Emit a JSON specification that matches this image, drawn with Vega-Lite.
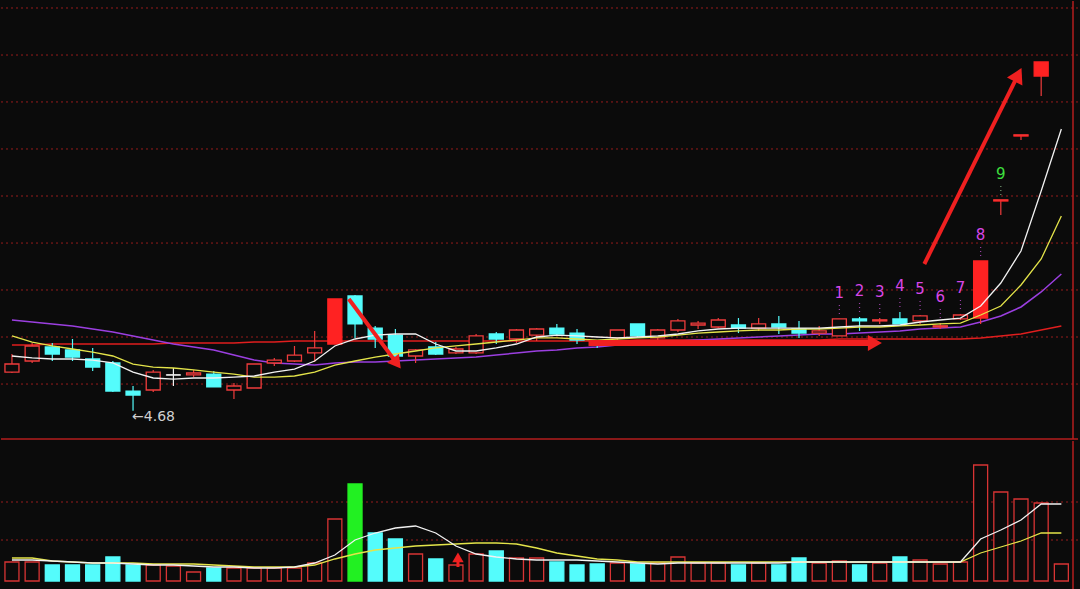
{
  "$schema": "https://vega.github.io/schema/vega-lite/v6.json",
  "background": "#0b0b0b",
  "padding": {"left": 0, "top": 0, "right": 3, "bottom": 0},
  "spacing": 0,
  "config": {"view": {"stroke": null}, "concat": {"spacing": 0}},
  "datasets": {
    "k": [
      {"i":0,"o":5.052,"c":5.129,"h":5.225,"l":5.043,"lu":false,"m5":5.206,"m10":5.398,"m20":5.551,"m60":5.311,"v":0.95,"v5":1.05,"v10":1.15,"lab":null},
      {"i":1,"o":5.158,"c":5.302,"h":5.331,"l":5.139,"lu":false,"m5":5.187,"m10":5.340,"m20":5.532,"m60":5.311,"v":0.95,"v5":1.05,"v10":1.15,"lab":null},
      {"i":2,"o":5.292,"c":5.225,"h":5.331,"l":5.158,"lu":false,"m5":5.177,"m10":5.302,"m20":5.513,"m60":5.321,"v":0.80,"v5":1.0,"v10":1.0,"lab":null},
      {"i":3,"o":5.264,"c":5.196,"h":5.369,"l":5.158,"lu":false,"m5":5.177,"m10":5.273,"m20":5.494,"m60":5.321,"v":0.80,"v5":0.95,"v10":0.95,"lab":null},
      {"i":4,"o":5.177,"c":5.100,"h":5.283,"l":5.062,"lu":false,"m5":5.167,"m10":5.244,"m20":5.465,"m60":5.321,"v":0.80,"v5":0.9,"v10":0.9,"lab":null},
      {"i":5,"o":5.139,"c":4.870,"h":5.158,"l":4.861,"lu":false,"m5":5.139,"m10":5.206,"m20":5.436,"m60":5.321,"v":1.20,"v5":0.9,"v10":0.9,"lab":null},
      {"i":6,"o":4.870,"c":4.832,"h":4.918,"l":4.68,"lu":false,"m5":5.052,"m10":5.129,"m20":5.398,"m60":5.321,"v":0.80,"v5":0.85,"v10":0.9,"lab":null},
      {"i":7,"o":4.880,"c":5.052,"h":5.072,"l":4.861,"lu":false,"m5":4.995,"m10":5.100,"m20":5.359,"m60":5.321,"v":0.80,"v5":0.8,"v10":0.85,"lab":null},
      {"i":8,"o":5.024,"c":5.024,"h":5.091,"l":4.918,"lu":false,"m5":4.985,"m10":5.091,"m20":5.321,"m60":5.331,"v":0.75,"v5":0.8,"v10":0.85,"lab":null},
      {"i":9,"o":5.024,"c":5.043,"h":5.072,"l":5.004,"lu":false,"m5":4.995,"m10":5.072,"m20":5.292,"m60":5.331,"v":0.45,"v5":0.75,"v10":0.85,"lab":null},
      {"i":10,"o":5.033,"c":4.909,"h":5.062,"l":4.909,"lu":false,"m5":4.995,"m10":5.052,"m20":5.264,"m60":5.331,"v":0.65,"v5":0.7,"v10":0.8,"lab":null},
      {"i":11,"o":4.880,"c":4.918,"h":4.947,"l":4.794,"lu":false,"m5":5.004,"m10":5.033,"m20":5.215,"m60":5.331,"v":0.65,"v5":0.7,"v10":0.75,"lab":null},
      {"i":12,"o":4.899,"c":5.129,"h":5.129,"l":4.899,"lu":false,"m5":5.014,"m10":5.004,"m20":5.167,"m60":5.340,"v":0.65,"v5":0.65,"v10":0.7,"lab":null},
      {"i":13,"o":5.139,"c":5.167,"h":5.187,"l":5.110,"lu":false,"m5":5.052,"m10":5.004,"m20":5.139,"m60":5.340,"v":0.65,"v5":0.65,"v10":0.7,"lab":null},
      {"i":14,"o":5.158,"c":5.215,"h":5.302,"l":5.148,"lu":false,"m5":5.081,"m10":5.014,"m20":5.129,"m60":5.350,"v":0.65,"v5":0.7,"v10":0.7,"lab":null},
      {"i":15,"o":5.235,"c":5.283,"h":5.446,"l":5.148,"lu":false,"m5":5.158,"m10":5.052,"m20":5.119,"m60":5.350,"v":0.90,"v5":0.9,"v10":0.8,"lab":null},
      {"i":16,"o":5.321,"c":5.753,"h":5.753,"l":5.321,"lu":true,"m5":5.302,"m10":5.119,"m20":5.139,"m60":5.350,"v":3.10,"v5":1.3,"v10":1.1,"lab":null},
      {"i":17,"o":5.781,"c":5.513,"h":5.791,"l":5.379,"lu":false,"m5":5.369,"m10":5.158,"m20":5.148,"m60":5.350,"v":4.85,"v5":2.05,"v10":1.35,"lab":null},
      {"i":18,"o":5.474,"c":5.369,"h":5.494,"l":5.283,"lu":false,"m5":5.407,"m10":5.196,"m20":5.148,"m60":5.350,"v":2.40,"v5":2.4,"v10":1.55,"lab":null},
      {"i":19,"o":5.407,"c":5.206,"h":5.465,"l":5.187,"lu":false,"m5":5.417,"m10":5.225,"m20":5.158,"m60":5.350,"v":2.10,"v5":2.65,"v10":1.65,"lab":null},
      {"i":20,"o":5.206,"c":5.264,"h":5.273,"l":5.139,"lu":false,"m5":5.417,"m10":5.254,"m20":5.167,"m60":5.350,"v":1.35,"v5":2.75,"v10":1.75,"lab":null},
      {"i":21,"o":5.292,"c":5.225,"h":5.340,"l":5.215,"lu":false,"m5":5.321,"m10":5.283,"m20":5.177,"m60":5.350,"v":1.10,"v5":2.4,"v10":1.8,"lab":null},
      {"i":22,"o":5.235,"c":5.273,"h":5.292,"l":5.225,"lu":false,"m5":5.254,"m10":5.302,"m20":5.187,"m60":5.350,"v":0.80,"v5":1.75,"v10":1.85,"lab":null},
      {"i":23,"o":5.235,"c":5.398,"h":5.417,"l":5.225,"lu":false,"m5":5.254,"m10":5.321,"m20":5.196,"m60":5.350,"v":1.35,"v5":1.35,"v10":1.9,"lab":null},
      {"i":24,"o":5.417,"c":5.369,"h":5.436,"l":5.321,"lu":false,"m5":5.283,"m10":5.340,"m20":5.215,"m60":5.350,"v":1.50,"v5":1.2,"v10":1.9,"lab":null},
      {"i":25,"o":5.369,"c":5.455,"h":5.465,"l":5.331,"lu":false,"m5":5.321,"m10":5.359,"m20":5.235,"m60":5.350,"v":1.15,"v5":1.1,"v10":1.85,"lab":null},
      {"i":26,"o":5.407,"c":5.465,"h":5.474,"l":5.350,"lu":false,"m5":5.388,"m10":5.379,"m20":5.254,"m60":5.350,"v":1.15,"v5":1.05,"v10":1.65,"lab":null},
      {"i":27,"o":5.474,"c":5.417,"h":5.513,"l":5.398,"lu":false,"m5":5.407,"m10":5.379,"m20":5.264,"m60":5.350,"v":0.95,"v5":1.05,"v10":1.4,"lab":null},
      {"i":28,"o":5.426,"c":5.359,"h":5.465,"l":5.321,"lu":false,"m5":5.398,"m10":5.369,"m20":5.283,"m60":5.350,"v":0.80,"v5":1.05,"v10":1.25,"lab":null},
      {"i":29,"o":5.350,"c":5.321,"h":5.359,"l":5.283,"lu":false,"m5":5.388,"m10":5.359,"m20":5.292,"m60":5.350,"v":0.85,"v5":1.0,"v10":1.1,"lab":null},
      {"i":30,"o":5.379,"c":5.455,"h":5.455,"l":5.331,"lu":false,"m5":5.379,"m10":5.369,"m20":5.311,"m60":5.350,"v":0.90,"v5":0.95,"v10":1.05,"lab":null},
      {"i":31,"o":5.513,"c":5.398,"h":5.513,"l":5.388,"lu":false,"m5":5.388,"m10":5.379,"m20":5.321,"m60":5.359,"v":0.85,"v5":0.9,"v10":0.95,"lab":null},
      {"i":32,"o":5.379,"c":5.455,"h":5.465,"l":5.331,"lu":false,"m5":5.398,"m10":5.388,"m20":5.331,"m60":5.359,"v":0.90,"v5":0.85,"v10":0.95,"lab":null},
      {"i":33,"o":5.455,"c":5.542,"h":5.561,"l":5.436,"lu":false,"m5":5.417,"m10":5.407,"m20":5.350,"m60":5.359,"v":1.20,"v5":0.9,"v10":0.95,"lab":null},
      {"i":34,"o":5.503,"c":5.522,"h":5.542,"l":5.465,"lu":false,"m5":5.446,"m10":5.426,"m20":5.359,"m60":5.359,"v":0.90,"v5":0.9,"v10":0.95,"lab":null},
      {"i":35,"o":5.484,"c":5.551,"h":5.570,"l":5.474,"lu":false,"m5":5.465,"m10":5.436,"m20":5.369,"m60":5.359,"v":0.90,"v5":0.9,"v10":0.95,"lab":null},
      {"i":36,"o":5.503,"c":5.474,"h":5.570,"l":5.426,"lu":false,"m5":5.474,"m10":5.446,"m20":5.379,"m60":5.359,"v":0.80,"v5":0.9,"v10":0.95,"lab":null},
      {"i":37,"o":5.474,"c":5.513,"h":5.570,"l":5.446,"lu":false,"m5":5.474,"m10":5.455,"m20":5.388,"m60":5.359,"v":0.90,"v5":0.9,"v10":0.95,"lab":null},
      {"i":38,"o":5.513,"c":5.484,"h":5.590,"l":5.417,"lu":false,"m5":5.474,"m10":5.455,"m20":5.398,"m60":5.359,"v":0.80,"v5":0.9,"v10":0.95,"lab":null},
      {"i":39,"o":5.465,"c":5.426,"h":5.542,"l":5.379,"lu":false,"m5":5.474,"m10":5.465,"m20":5.407,"m60":5.359,"v":1.15,"v5":0.95,"v10":0.95,"lab":null},
      {"i":40,"o":5.426,"c":5.446,"h":5.494,"l":5.398,"lu":false,"m5":5.474,"m10":5.465,"m20":5.417,"m60":5.359,"v":0.90,"v5":0.95,"v10":0.95,"lab":null},
      {"i":41,"o":5.398,"c":5.561,"h":5.561,"l":5.398,"lu":false,"m5":5.484,"m10":5.474,"m20":5.417,"m60":5.369,"v":1.00,"v5":0.95,"v10":0.95,"lab":"1"},
      {"i":42,"o":5.561,"c":5.542,"h":5.580,"l":5.446,"lu":false,"m5":5.494,"m10":5.484,"m20":5.426,"m60":5.369,"v":0.80,"v5":0.95,"v10":0.95,"lab":"2"},
      {"i":43,"o":5.542,"c":5.551,"h":5.570,"l":5.513,"lu":false,"m5":5.494,"m10":5.484,"m20":5.436,"m60":5.369,"v":0.90,"v5":0.95,"v10":0.95,"lab":"3"},
      {"i":44,"o":5.561,"c":5.513,"h":5.628,"l":5.513,"lu":false,"m5":5.503,"m10":5.494,"m20":5.446,"m60":5.369,"v":1.20,"v5":0.95,"v10":0.95,"lab":"4"},
      {"i":45,"o":5.542,"c":5.590,"h":5.599,"l":5.513,"lu":false,"m5":5.532,"m10":5.503,"m20":5.465,"m60":5.369,"v":1.05,"v5":0.95,"v10":0.95,"lab":"5"},
      {"i":46,"o":5.484,"c":5.494,"h":5.522,"l":5.465,"lu":false,"m5":5.551,"m10":5.513,"m20":5.474,"m60":5.369,"v":0.85,"v5":0.95,"v10":0.95,"lab":"6"},
      {"i":47,"o":5.561,"c":5.599,"h":5.609,"l":5.551,"lu":false,"m5":5.570,"m10":5.522,"m20":5.484,"m60":5.369,"v":0.95,"v5":0.95,"v10":0.95,"lab":"7"},
      {"i":48,"o":5.570,"c":6.117,"h":6.117,"l":5.513,"lu":true,"m5":5.685,"m10":5.599,"m20":5.532,"m60":5.379,"v":5.80,"v5":2.1,"v10":1.4,"lab":"8"},
      {"i":49,"o":6.692,"c":6.702,"h":6.702,"l":6.558,"lu":true,"m5":5.906,"m10":5.685,"m20":5.590,"m60":5.398,"v":4.45,"v5":2.55,"v10":1.7,"lab":"9"},
      {"i":50,"o":7.315,"c":7.325,"h":7.325,"l":7.277,"lu":true,"m5":6.213,"m10":5.887,"m20":5.676,"m60":5.417,"v":4.10,"v5":3.05,"v10":2.0,"lab":null},
      {"i":51,"o":7.891,"c":8.025,"h":8.025,"l":7.699,"lu":true,"m5":6.788,"m10":6.136,"m20":5.820,"m60":5.455,"v":3.90,"v5":3.85,"v10":2.4,"lab":null},
      {"i":52,"o":null,"c":null,"h":null,"l":null,"lu":false,"m5":7.383,"m10":6.548,"m20":5.992,"m60":5.494,"v":0.85,"v5":3.85,"v10":2.4,"lab":null}
    ],
    "gridTop": [{"p":8.543},{"p":8.092},{"p":7.642},{"p":7.191},{"p":6.74},{"p":6.289},{"p":5.839},{"p":5.388},{"p":4.937}],
    "gridVol": [{"v":2.05},{"v":3.95}],
    "edgeTop": [{"i":52.577,"p":4.41}],
    "edgeVol": [{"i":52.577}],
    "arrows": [
      {"id":"a","i1":16.69,"p1":5.753,"i2":19.01,"p2":5.152},
      {"id":"b","i1":28.57,"p1":5.331,"i2":42.76,"p2":5.331},
      {"id":"c","i1":45.21,"p1":6.088,"i2":49.8,"p2":7.881}
    ],
    "varrow": [
      {"i":22.1,"v1":0.7,"v2":1.18}
    ]
  },
  "vconcat": [
    {
      "width": 1077,
      "height": 438,
      "data": {"name": "k"},
      "layer": [
        {
          "data": {"name": "gridTop"},
          "mark": {"type": "rule", "color": "#961c1c", "strokeDash": [2, 3], "strokeWidth": 1},
          "encoding": {
            "y": {"field": "p", "type": "quantitative", "scale": {"domain": [4.41, 8.61], "nice": false, "zero": false}, "axis": null}
          }
        },
        {
          "data": {"name": "edgeTop"},
          "mark": {"type": "rule", "color": "#b41e1e", "strokeWidth": 1.5},
          "encoding": {
            "y": {"field": "p", "type": "quantitative", "scale": {"domain": [4.41, 8.61], "nice": false, "zero": false}, "axis": null}
          }
        },
        {
          "data": {"name": "edgeTop"},
          "mark": {"type": "rule", "color": "#b41e1e", "strokeWidth": 1.5},
          "encoding": {
            "x": {"field": "i", "type": "quantitative", "scale": {"domain": [-0.295, 52.577], "nice": false, "zero": false}, "axis": null}
          }
        },
        {
          "mark": {"type": "line", "color": "#e01e1e", "strokeWidth": 1.5},
          "encoding": {
            "x": {"field": "i", "type": "quantitative", "scale": {"domain": [-0.295, 52.577], "nice": false, "zero": false}, "axis": null},
            "y": {"field": "m60", "type": "quantitative", "scale": {"domain": [4.41, 8.61], "nice": false, "zero": false}, "axis": null}
          }
        },
        {
          "mark": {"type": "line", "color": "#9b3fe0", "strokeWidth": 1.5},
          "encoding": {
            "x": {"field": "i", "type": "quantitative", "scale": {"domain": [-0.295, 52.577], "nice": false, "zero": false}, "axis": null},
            "y": {"field": "m20", "type": "quantitative", "scale": {"domain": [4.41, 8.61], "nice": false, "zero": false}, "axis": null}
          }
        },
        {
          "mark": {"type": "rule", "strokeWidth": 1.2},
          "encoding": {
            "x": {"field": "i", "type": "quantitative", "scale": {"domain": [-0.295, 52.577], "nice": false, "zero": false}, "axis": null},
            "y": {"field": "l", "type": "quantitative", "scale": {"domain": [4.41, 8.61], "nice": false, "zero": false}, "axis": null},
            "y2": {"field": "h"},
            "color": {"condition": [{"test": "datum.c > datum.o", "value": "#f03c3c"}, {"test": "datum.c < datum.o", "value": "#54fcfc"}], "value": "#f0f0f0"}
          }
        },
        {
          "mark": {"type": "bar", "size": 14, "strokeWidth": 1.3},
          "encoding": {
            "x": {"field": "i", "type": "quantitative", "scale": {"domain": [-0.295, 52.577], "nice": false, "zero": false}, "axis": null},
            "y": {"field": "o", "type": "quantitative", "scale": {"domain": [4.41, 8.61], "nice": false, "zero": false}, "axis": null},
            "y2": {"field": "c"},
            "fill": {"condition": [{"test": "datum.lu && datum.c > datum.o", "value": "#ff2222"}, {"test": "datum.c > datum.o", "value": "#0b0b0b"}, {"test": "datum.c < datum.o", "value": "#54fcfc"}], "value": "#f0f0f0"},
            "stroke": {"condition": [{"test": "datum.lu && datum.c > datum.o", "value": "#ff2222"}, {"test": "datum.c > datum.o", "value": "#f03c3c"}, {"test": "datum.c < datum.o", "value": "#54fcfc"}], "value": "#f0f0f0"}
          }
        },
        {
          "transform": [{"filter": "datum.o != null && abs(datum.c - datum.o) < 0.015"}],
          "mark": {"type": "tick", "orient": "horizontal", "size": 15, "thickness": 1.6},
          "encoding": {
            "x": {"field": "i", "type": "quantitative", "scale": {"domain": [-0.295, 52.577], "nice": false, "zero": false}, "axis": null},
            "y": {"field": "c", "type": "quantitative", "scale": {"domain": [4.41, 8.61], "nice": false, "zero": false}, "axis": null},
            "color": {"condition": [{"test": "datum.c > datum.o", "value": "#f03c3c"}, {"test": "datum.c < datum.o", "value": "#54fcfc"}], "value": "#f0f0f0"}
          }
        },
        {
          "mark": {"type": "line", "color": "#e4e44a", "strokeWidth": 1.3},
          "encoding": {
            "x": {"field": "i", "type": "quantitative", "scale": {"domain": [-0.295, 52.577], "nice": false, "zero": false}, "axis": null},
            "y": {"field": "m10", "type": "quantitative", "scale": {"domain": [4.41, 8.61], "nice": false, "zero": false}, "axis": null}
          }
        },
        {
          "mark": {"type": "line", "color": "#f2f2f2", "strokeWidth": 1.3},
          "encoding": {
            "x": {"field": "i", "type": "quantitative", "scale": {"domain": [-0.295, 52.577], "nice": false, "zero": false}, "axis": null},
            "y": {"field": "m5", "type": "quantitative", "scale": {"domain": [4.41, 8.61], "nice": false, "zero": false}, "axis": null}
          }
        },
        {
          "transform": [{"filter": "datum.lab != null"}],
          "mark": {"type": "rule", "strokeDash": [1, 3], "strokeWidth": 1.2, "yOffset": -5, "y2Offset": -17, "opacity": 0.8},
          "encoding": {
            "x": {"field": "i", "type": "quantitative", "scale": {"domain": [-0.295, 52.577], "nice": false, "zero": false}, "axis": null},
            "y": {"field": "h", "type": "quantitative", "scale": {"domain": [4.41, 8.61], "nice": false, "zero": false}, "axis": null},
            "y2": {"field": "h"},
            "color": {"condition": {"test": "datum.lab == '9'", "value": "#8fc28f"}, "value": "#c050d0"}
          }
        },
        {
          "transform": [{"filter": "datum.lab != null"}],
          "mark": {"type": "text", "font": "DejaVu Sans", "fontSize": 15, "baseline": "middle", "align": "center", "dy": -26},
          "encoding": {
            "x": {"field": "i", "type": "quantitative", "scale": {"domain": [-0.295, 52.577], "nice": false, "zero": false}, "axis": null},
            "y": {"field": "h", "type": "quantitative", "scale": {"domain": [4.41, 8.61], "nice": false, "zero": false}, "axis": null},
            "text": {"field": "lab"},
            "color": {"condition": {"test": "datum.lab == '9'", "value": "#3ee03e"}, "value": "#d846e6"}
          }
        },
        {
          "transform": [{"filter": "datum.i == 6"}],
          "mark": {"type": "text", "font": "DejaVu Sans", "fontSize": 14, "baseline": "middle", "align": "left", "dy": 6, "dx": -1, "color": "#d0d0d0"},
          "encoding": {
            "x": {"field": "i", "type": "quantitative", "scale": {"domain": [-0.295, 52.577], "nice": false, "zero": false}, "axis": null},
            "y": {"field": "l", "type": "quantitative", "scale": {"domain": [4.41, 8.61], "nice": false, "zero": false}, "axis": null},
            "text": {"value": "←4.68"}
          }
        },
        {
          "data": {"name": "arrows"},
          "mark": {"type": "rule", "color": "#f02020"},
          "encoding": {
            "x": {"field": "i1", "type": "quantitative", "scale": {"domain": [-0.295, 52.577], "nice": false, "zero": false}, "axis": null},
            "x2": {"field": "i2"},
            "y": {"field": "p1", "type": "quantitative", "scale": {"domain": [4.41, 8.61], "nice": false, "zero": false}, "axis": null},
            "y2": {"field": "p2"},
            "strokeWidth": {"condition": {"test": "datum.id == 'b'", "value": 6}, "value": 4}
          }
        },
        {
          "data": {"name": "arrows"},
          "transform": [{"filter": "datum.id == 'a'"}],
          "mark": {"type": "point", "shape": "triangle", "filled": true, "color": "#f02020", "opacity": 1, "size": 220, "angle": 143},
          "encoding": {
            "x": {"field": "i2", "type": "quantitative", "scale": {"domain": [-0.295, 52.577], "nice": false, "zero": false}, "axis": null},
            "y": {"field": "p2", "type": "quantitative", "scale": {"domain": [4.41, 8.61], "nice": false, "zero": false}, "axis": null}
          }
        },
        {
          "data": {"name": "arrows"},
          "transform": [{"filter": "datum.id == 'b'"}],
          "mark": {"type": "point", "shape": "triangle-right", "filled": true, "color": "#f02020", "opacity": 1, "size": 260},
          "encoding": {
            "x": {"field": "i2", "type": "quantitative", "scale": {"domain": [-0.295, 52.577], "nice": false, "zero": false}, "axis": null},
            "y": {"field": "p2", "type": "quantitative", "scale": {"domain": [4.41, 8.61], "nice": false, "zero": false}, "axis": null}
          }
        },
        {
          "data": {"name": "arrows"},
          "transform": [{"filter": "datum.id == 'c'"}],
          "mark": {"type": "point", "shape": "triangle", "filled": true, "color": "#f02020", "opacity": 1, "size": 300, "angle": 27},
          "encoding": {
            "x": {"field": "i2", "type": "quantitative", "scale": {"domain": [-0.295, 52.577], "nice": false, "zero": false}, "axis": null},
            "y": {"field": "p2", "type": "quantitative", "scale": {"domain": [4.41, 8.61], "nice": false, "zero": false}, "axis": null}
          }
        }
      ]
    },
    {
      "width": 1077,
      "height": 151,
      "data": {"name": "k"},
      "layer": [
        {
          "data": {"name": "gridVol"},
          "mark": {"type": "rule", "color": "#961c1c", "strokeDash": [2, 3], "strokeWidth": 1},
          "encoding": {
            "y": {"field": "v", "type": "quantitative", "scale": {"domain": [-0.55, 7.0], "nice": false, "zero": false}, "axis": null}
          }
        },
        {
          "data": {"name": "edgeVol"},
          "mark": {"type": "rule", "color": "#b41e1e", "strokeWidth": 1.5},
          "encoding": {
            "x": {"field": "i", "type": "quantitative", "scale": {"domain": [-0.295, 52.577], "nice": false, "zero": false}, "axis": null}
          }
        },
        {
          "mark": {"type": "bar", "size": 14, "strokeWidth": 1.3},
          "encoding": {
            "x": {"field": "i", "type": "quantitative", "scale": {"domain": [-0.295, 52.577], "nice": false, "zero": false}, "axis": null},
            "y": {"field": "v", "type": "quantitative", "scale": {"domain": [-0.55, 7.0], "nice": false, "zero": false}, "axis": null},
            "fill": {"condition": [{"test": "datum.i == 17", "value": "#22f022"}, {"test": "datum.c < datum.o", "value": "#54fcfc"}], "value": "#0b0b0b"},
            "stroke": {"condition": [{"test": "datum.i == 17", "value": "#22f022"}, {"test": "datum.c < datum.o", "value": "#54fcfc"}], "value": "#d83434"}
          }
        },
        {
          "mark": {"type": "line", "color": "#e4e44a", "strokeWidth": 1.3},
          "encoding": {
            "x": {"field": "i", "type": "quantitative", "scale": {"domain": [-0.295, 52.577], "nice": false, "zero": false}, "axis": null},
            "y": {"field": "v10", "type": "quantitative", "scale": {"domain": [-0.55, 7.0], "nice": false, "zero": false}, "axis": null}
          }
        },
        {
          "mark": {"type": "line", "color": "#f2f2f2", "strokeWidth": 1.3},
          "encoding": {
            "x": {"field": "i", "type": "quantitative", "scale": {"domain": [-0.295, 52.577], "nice": false, "zero": false}, "axis": null},
            "y": {"field": "v5", "type": "quantitative", "scale": {"domain": [-0.55, 7.0], "nice": false, "zero": false}, "axis": null}
          }
        },
        {
          "data": {"name": "varrow"},
          "mark": {"type": "rule", "color": "#f02020", "strokeWidth": 3},
          "encoding": {
            "x": {"field": "i", "type": "quantitative", "scale": {"domain": [-0.295, 52.577], "nice": false, "zero": false}, "axis": null},
            "y": {"field": "v1", "type": "quantitative", "scale": {"domain": [-0.55, 7.0], "nice": false, "zero": false}, "axis": null},
            "y2": {"field": "v2"}
          }
        },
        {
          "data": {"name": "varrow"},
          "mark": {"type": "point", "shape": "triangle-up", "filled": true, "color": "#f02020", "opacity": 1, "size": 130},
          "encoding": {
            "x": {"field": "i", "type": "quantitative", "scale": {"domain": [-0.295, 52.577], "nice": false, "zero": false}, "axis": null},
            "y": {"field": "v2", "type": "quantitative", "scale": {"domain": [-0.55, 7.0], "nice": false, "zero": false}, "axis": null}
          }
        }
      ]
    }
  ]
}
